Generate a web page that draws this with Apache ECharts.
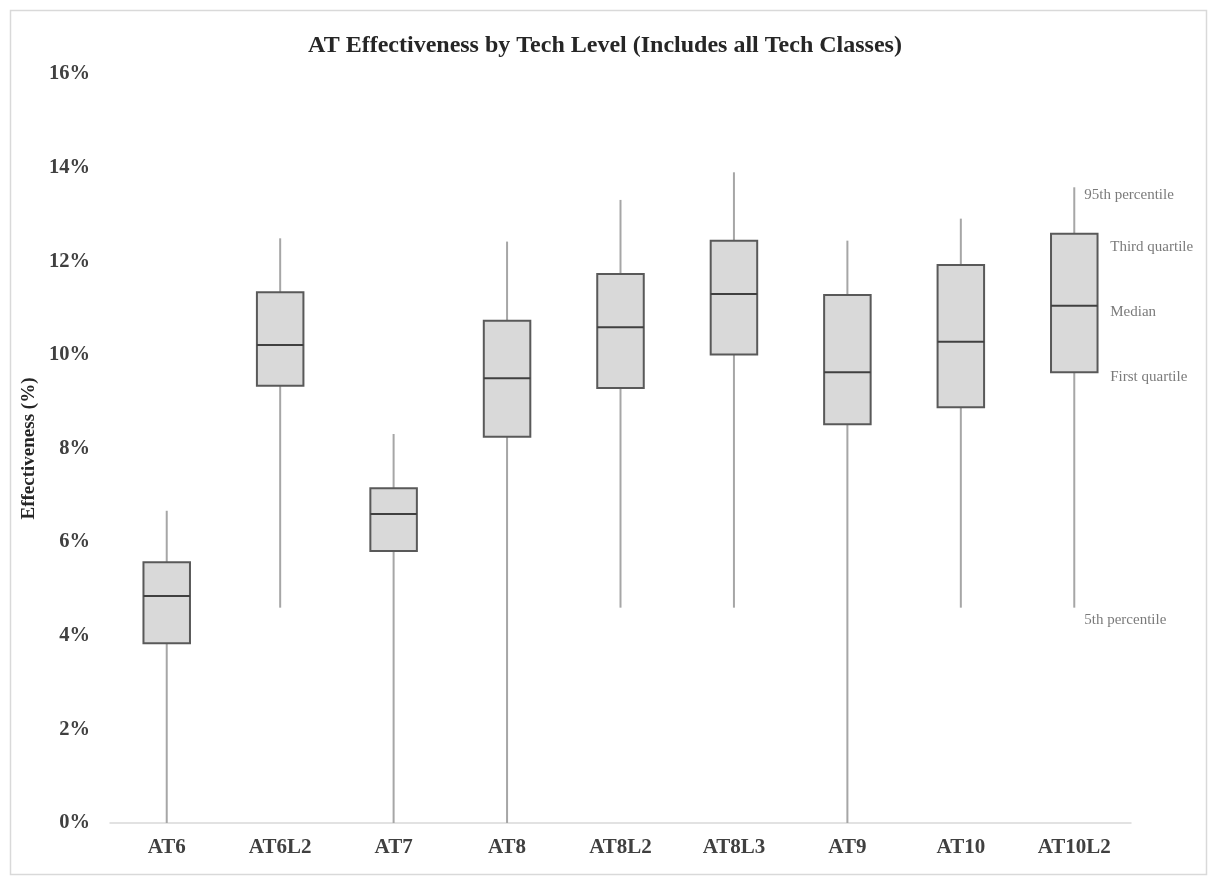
<!DOCTYPE html>
<html>
<head>
<meta charset="utf-8">
<script src="https://cdn.jsdelivr.net/npm/echarts@6/dist/echarts.min.js"></script>
<style>
html,body{margin:0;padding:0;background:#fff;}
#chart{width:1210px;height:880px;}
</style>
</head>
<body>
<div id="chart"></div>
<script>
const categories = ['AT6','AT6L2','AT7','AT8','AT8L2','AT8L3','AT9','AT10','AT10L2'];
// values in percent
const p5     = [0.00, 4.60, 0.00, 0.00, 4.60, 4.60, 0.00, 4.60, 4.60];
const q1     = [3.84, 9.34, 5.81, 8.25, 9.29, 10.01, 8.52, 8.88, 9.63];
const median = [4.85, 10.21, 6.60, 9.50, 10.59, 11.30, 9.63, 10.28, 11.05];
const q3     = [5.57, 11.34, 7.15, 10.73, 11.73, 12.44, 11.28, 11.92, 12.59];
const p95    = [6.67, 12.49, 8.31, 12.42, 13.31, 13.90, 12.44, 12.91, 13.58];
const yTicks = [0, 2, 4, 6, 8, 10, 12, 14, 16];
const annotationLabels = ['95th percentile','Third quartile','Median','First quartile','5th percentile'];

const serif = '"Liberation Serif","Times New Roman","DejaVu Serif",serif';
const boxData = categories.map((c, i) => [i, p5[i], q1[i], median[i], q3[i], p95[i]]);
const last = categories.length - 1;
const annStats = [p95[last], q3[last], median[last], q1[last], p5[last]];
const annOffsets = [[10, 8], [36, 13], [36, 6], [36, 5], [10, 12]];

const chart = echarts.init(document.getElementById('chart'), null, {renderer: 'canvas'});
chart.setOption({
  backgroundColor: '#ffffff',
  animation: false,
  title: {
    text: 'AT Effectiveness by Tech Level (Includes all Tech Classes)',
    left: 'center', top: 29,
    textStyle: {fontFamily: serif, fontWeight: 'bold', fontSize: 24, color: '#262626'}
  },
  graphic: [{
    type: 'rect', left: 8, top: 8, z: -10,
    shape: {width: 1196, height: 864},
    style: {fill: 'none', stroke: '#d9d9d9', lineWidth: 1.5}
  }],
  grid: {left: 110, right: 79, top: 74, bottom: 57, containLabel: false},
  xAxis: {
    type: 'category',
    data: categories,
    axisLine: {lineStyle: {color: '#d9d9d9', width: 1.5}},
    axisTick: {show: false},
    axisLabel: {fontFamily: serif, fontWeight: 'bold', fontSize: 21, color: '#404040', margin: 14},
    splitLine: {show: false}
  },
  yAxis: {
    type: 'value',
    min: 0, max: 16, interval: 2,
    name: 'Effectiveness (%)',
    nameLocation: 'middle',
    nameGap: 62,
    nameTextStyle: {fontFamily: serif, fontWeight: 'bold', fontSize: 19, color: '#262626'},
    axisLine: {show: false},
    axisTick: {show: false},
    splitLine: {show: false},
    axisLabel: {
      fontFamily: serif, fontWeight: 'bold', fontSize: 20.5, color: '#404040', margin: 20,
      formatter: v => yTicks.includes(v) ? v + '%' : ''
    }
  },
  series: [{
    type: 'custom',
    data: boxData,
    encode: {x: 0, y: [1, 2, 3, 4, 5]},
    renderItem: function (params, api) {
      const x = api.value(0);
      const lo = api.coord([x, api.value(1)]);
      const b1 = api.coord([x, api.value(2)]);
      const md = api.coord([x, api.value(3)]);
      const b3 = api.coord([x, api.value(4)]);
      const hi = api.coord([x, api.value(5)]);
      const bw = api.size([1, 0])[0] * 0.41;
      const cx = lo[0];
      return {
        type: 'group',
        children: [
          {type: 'line', shape: {x1: cx, y1: lo[1], x2: cx, y2: b1[1]}, style: {stroke: '#a6a6a6', lineWidth: 2}},
          {type: 'line', shape: {x1: cx, y1: b3[1], x2: cx, y2: hi[1]}, style: {stroke: '#a6a6a6', lineWidth: 2}},
          {type: 'rect', shape: {x: cx - bw / 2, y: b3[1], width: bw, height: b1[1] - b3[1]},
           style: {fill: '#d9d9d9', stroke: '#595959', lineWidth: 2}},
          {type: 'line', shape: {x1: cx - bw / 2, y1: md[1], x2: cx + bw / 2, y2: md[1]},
           style: {stroke: '#404040', lineWidth: 2}}
        ]
      };
    }
  }, {
    type: 'scatter',
    symbolSize: 0,
    silent: true,
    data: annStats.map((v, i) => ({
      value: [categories[last], v],
      label: {
        show: true,
        formatter: annotationLabels[i],
        position: annOffsets[i],
        align: 'left', verticalAlign: 'middle',
        fontFamily: serif, fontSize: 15, color: '#595959'
      }
    }))
  }]
});
</script>
</body>
</html>
